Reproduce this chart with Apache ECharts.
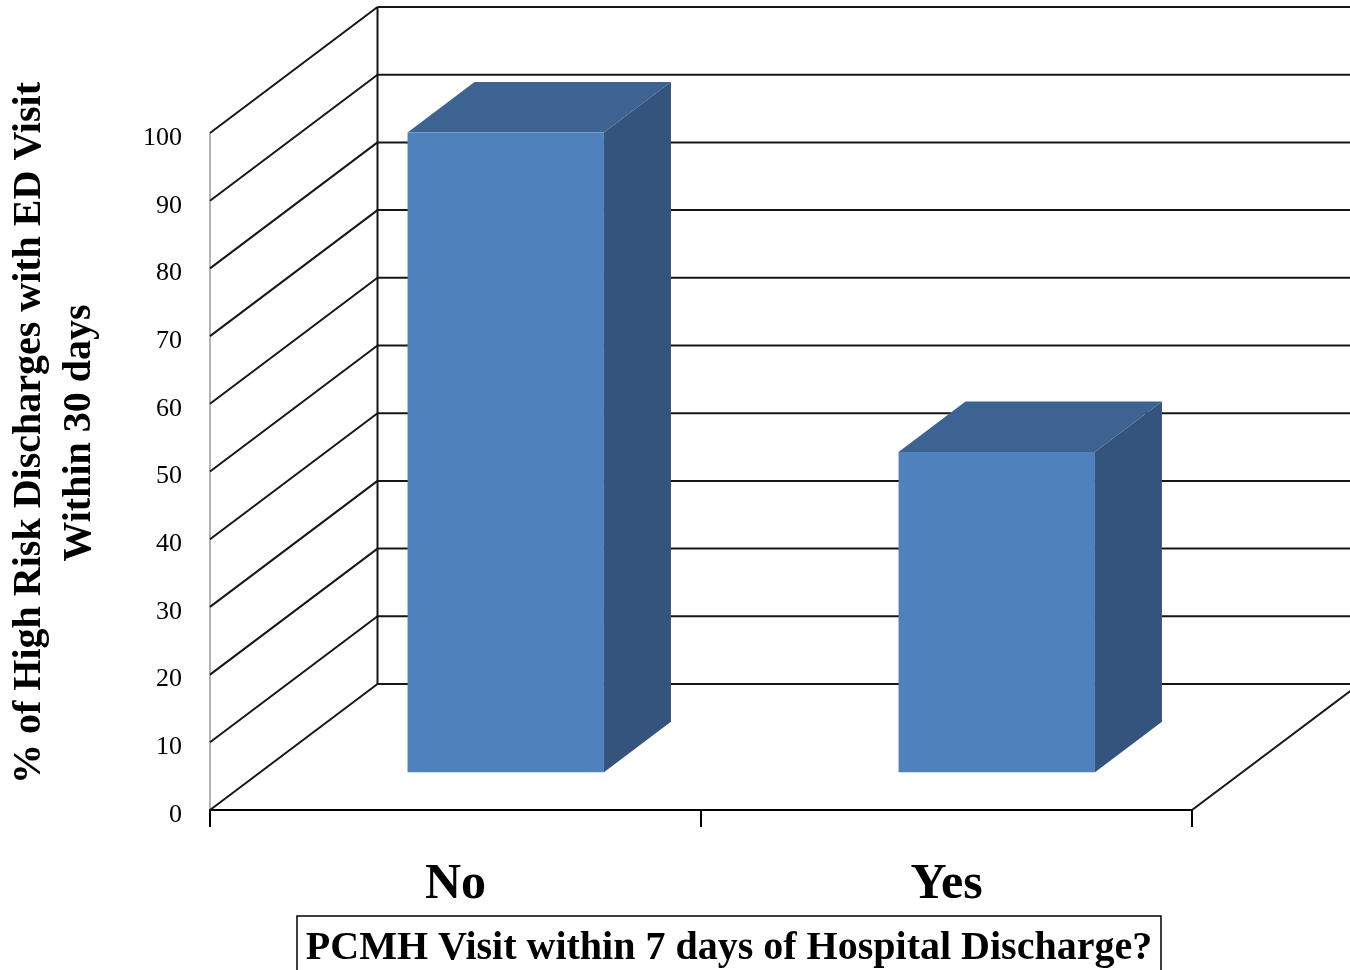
<!DOCTYPE html>
<html>
<head>
<meta charset="utf-8">
<script src="https://cdn.jsdelivr.net/npm/echarts@6/dist/echarts.min.js"></script>
<style>
  html, body { margin: 0; padding: 0; background: #fff; }
  #chart { width: 1350px; height: 970px; }
</style>
</head>
<body>
<div id="chart"></div>
<script>
// ---- data ----
const categories = ['No', 'Yes'];
const values = [94.5, 47.3];
const yTicks = [0, 10, 20, 30, 40, 50, 60, 70, 80, 90, 100];
const yAxisTitle = '% of High Risk Discharges with ED Visit\nWithin 30 days';
const xAxisTitle = 'PCMH Visit within 7 days of Hospital Discharge?';

// ---- oblique projection of the depth axis ----
const DEPTH_X = 167.5;
const DEPTH_Y = -126;
const BAR_FRONT = 0.3;   // bar occupies the middle of the depth
const BAR_BACK = 0.7;
const BAR_WIDTH = 0.4;   // fraction of a category band
const FONT = '"Liberation Serif", "DejaVu Serif", serif';
const LINE = '#161616';

const chart = echarts.init(document.getElementById('chart'), null, { renderer: 'canvas' });

// side wall, back wall and floor lines, one item per tick value
function renderWalls(params, api) {
  const v = api.value(1);
  const cs = params.coordSys;
  const L = cs.x, R = cs.x + cs.width;
  const y = api.coord([0, v])[1];
  const style = { stroke: LINE, lineWidth: 2, fill: null };
  const children = [
    { type: 'line', shape: { x1: L, y1: y, x2: L + DEPTH_X, y2: y + DEPTH_Y }, style },
    { type: 'line', shape: { x1: L + DEPTH_X, y1: y + DEPTH_Y, x2: R + DEPTH_X, y2: y + DEPTH_Y }, style }
  ];
  if (v === yTicks[0]) {
    const yTop = api.coord([0, yTicks[yTicks.length - 1]])[1];
    children.push(
      { type: 'line', shape: { x1: R, y1: y, x2: R + DEPTH_X, y2: y + DEPTH_Y }, style },
      { type: 'line', shape: { x1: L + DEPTH_X, y1: y + DEPTH_Y, x2: L + DEPTH_X, y2: yTop + DEPTH_Y }, style }
    );
  }
  return { type: 'group', children };
}

// box-shaped bar: front, top and right faces
function renderBar(params, api) {
  const i = api.value(0), v = api.value(1);
  const base = api.coord([i, 0]);
  const top = api.coord([i, v]);
  const w = api.size([1, 0])[0] * BAR_WIDTH;
  const fx = DEPTH_X * BAR_FRONT, fy = DEPTH_Y * BAR_FRONT;
  const bx = DEPTH_X * BAR_BACK, by = DEPTH_Y * BAR_BACK;
  const x0 = base[0] - w / 2, x1 = base[0] + w / 2;
  const yb = base[1], yt = top[1];
  return {
    type: 'group',
    children: [
      { type: 'polygon', shape: { points: [[x0 + fx, yt + fy], [x1 + fx, yt + fy], [x1 + bx, yt + by], [x0 + bx, yt + by]] },
        style: { fill: '#3C6391' } },
      { type: 'polygon', shape: { points: [[x1 + fx, yt + fy], [x1 + bx, yt + by], [x1 + bx, yb + by], [x1 + fx, yb + fy]] },
        style: { fill: '#34547E' } },
      { type: 'polygon', shape: { points: [[x0 + fx, yt + fy], [x1 + fx, yt + fy], [x1 + fx, yb + fy], [x0 + fx, yb + fy]] },
        style: { fill: '#4F81BD' } }
    ]
  };
}

const option = {
  animation: false,
  backgroundColor: '#fff',
  grid: { left: 210, top: 133, width: 982, height: 677, containLabel: false },
  xAxis: {
    type: 'category',
    data: categories,
    boundaryGap: true,
    axisLine: { show: true, lineStyle: { color: '#000', width: 2 } },
    axisTick: { show: true, length: 17, lineStyle: { color: '#000', width: 2 } },
    axisLabel: { fontFamily: FONT, fontSize: 50, fontWeight: 'bold', color: '#000', margin: 50 },
    splitLine: { show: false }
  },
  yAxis: {
    type: 'value',
    min: 0, max: 100, interval: 10,
    axisLine: { show: true, lineStyle: { color: '#9a9a9a', width: 1.5 } },
    axisTick: { show: false },
    axisLabel: { fontFamily: FONT, fontSize: 26, color: '#000', margin: 28, verticalAlign: 'top', lineHeight: 10 },
    splitLine: { show: false }
  },
  series: [
    {
      type: 'custom',
      renderItem: renderWalls,
      data: yTicks.map(v => [0, v]),
      silent: true,
      z: 1
    },
    {
      type: 'custom',
      renderItem: renderBar,
      data: values.map((v, i) => [i, v]),
      z: 2
    }
  ],
  graphic: [
    {
      type: 'text',
      x: 55, y: 433,
      rotation: Math.PI / 2,
      style: {
        text: yAxisTitle,
        fontFamily: FONT, fontSize: 40, fontWeight: 'bold', fill: '#000',
        textAlign: 'center', textVerticalAlign: 'middle', lineHeight: 50
      }
    },
    {
      type: 'rect',
      shape: { x: 297, y: 916, width: 864, height: 70 },
      style: { fill: '#fff', stroke: '#000', lineWidth: 1.5 }
    },
    {
      type: 'text',
      x: 729, y: 949,
      style: {
        text: xAxisTitle,
        fontFamily: FONT, fontSize: 40, fontWeight: 'bold', fill: '#000',
        textAlign: 'center', textVerticalAlign: 'middle'
      }
    }
  ]
};

chart.setOption(option);
</script>
</body>
</html>
